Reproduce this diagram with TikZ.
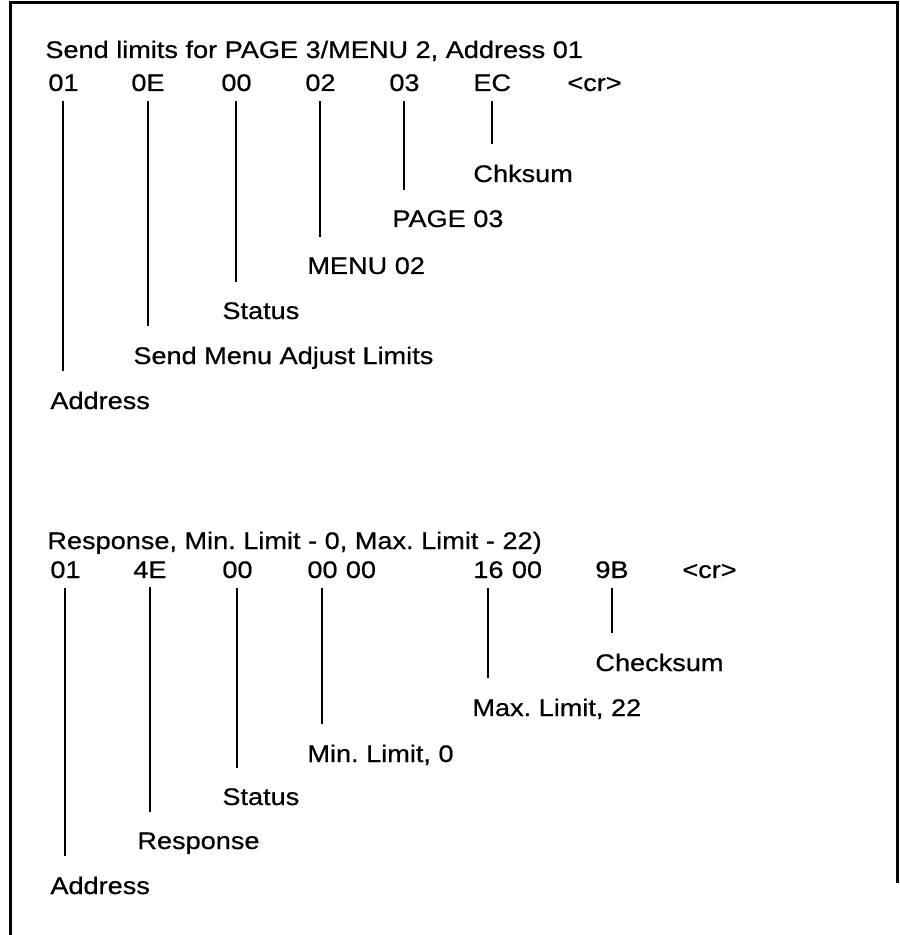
\documentclass[tikz,border=0pt]{standalone}
\usepackage{fontspec}
\setmainfont[FakeStretch=1.13,FakeBold=0.6]{Liberation Sans}
\usepackage{tikz}
\usetikzlibrary{positioning}
\frenchspacing

\begin{document}
\begin{tikzpicture}[x=.5pt,y=-.5pt,
 txt/.style={anchor=base west,inner sep=0pt,font=\fontsize{12pt}{14pt}\selectfont\frenchspacing},
 tick/.style={line width=1pt,shorten <=4.5pt,shorten >=10pt}]
 \useasboundingbox (0,0) rectangle (899,935);
 \draw[line width=1.5pt] (10,935)--(10,3)--(897,3)--(897,883);
 \node[txt] (sendhead) at (45,58) {Send limits for PAGE 3/MENU 2, Address 01};
 \node[txt] (saddr) at (48,91) {01};
 \node[txt] (scmd) at (131,91) {0E};
 \node[txt] (sstat) at (221,91) {00};
 \node[txt] (smenu) at (305,91) {02};
 \node[txt] (spage) at (389,91) {03};
 \node[txt] (ssum) at (473,91) {EC};
 \node[txt] (scr) at (567,91) {<cr>};
 \node[txt] (ssumlbl) at (473,182) {Chksum};
 \node[txt] (spagelbl) at (392,227) {PAGE 03};
 \node[txt] (smenulbl) at (307,274) {MENU 02};
 \node[txt] (sstatlbl) at (222,319) {Status};
 \node[txt] (scmdlbl) at (133,364) {Send Menu Adjust Limits};
 \node[txt] (saddrlbl) at (50,409) {Address};
 \node[txt] (resphead) at (47,549) {Response, Min. Limit - 0, Max. Limit - 22)};
 \node[txt] (raddr) at (50,578) {01};
 \node[txt] (rcmd) at (133,578) {4E};
 \node[txt] (rstat) at (222,578) {00};
 \node[txt] (rmin) at (307,578) {00};
 \node[txt] (rminb) at ([xshift=3.75pt]rmin.base east) {00};
 \node[txt] (rmax) at (473,578) {16};
 \node[txt] (rmaxb) at ([xshift=3.75pt]rmax.base east) {00};
 \node[txt] (rsum) at (595,578) {9B};
 \node[txt] (rcr) at (682,578) {<cr>};
 \node[txt] (rsumlbl) at (595,671) {Checksum};
 \node[txt] (rmaxlbl) at (472,716) {Max. Limit, 22};
 \node[txt] (rminlbl) at (307,762) {Min. Limit, 0};
 \node[txt] (rstatlbl) at (222,805) {Status};
 \node[txt] (rcmdlbl) at (137,849) {Response};
 \node[txt] (raddrlbl) at (50,894) {Address};
 \foreach \v/\l in {saddr/saddrlbl,scmd/scmdlbl,sstat/sstatlbl,smenu/smenulbl,
  spage/spagelbl,ssum/ssumlbl,raddr/raddrlbl,rcmd/rcmdlbl,rstat/rstatlbl,
  rmin/rminlbl,rmax/rmaxlbl,rsum/rsumlbl}
  \draw[tick] (\v.south) -- (\v.south |- \l.north);
\end{tikzpicture}
\end{document}
